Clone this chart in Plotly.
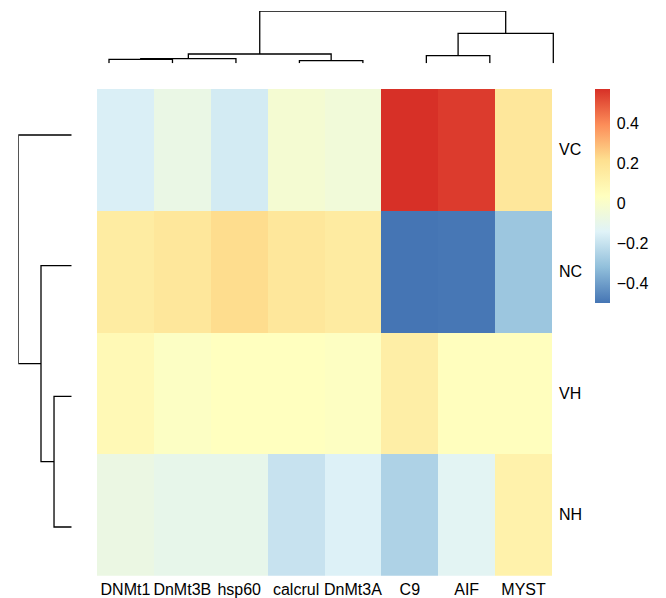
import plotly.graph_objects as go

W, H = 666, 598

# ---------------- data ----------------
col_labels = ["DNMt1", "DnMt3B", "hsp60", "calcrul", "DnMt3A", "C9", "AIF", "MYST"]
row_labels = ["VC", "NC", "VH", "NH"]

vc_values = [-0.156, -0.084, -0.172, -0.026, -0.045, 0.570, 0.548, 0.171]
nc_values = [0.146, 0.172, 0.220, 0.171, 0.150, -0.500, -0.495, -0.297]
vh_values = [0.069, 0.020, 0.035, 0.035, 0.025, 0.131, 0.038, 0.038]
nh_values = [-0.079, -0.101, -0.101, -0.200, -0.150, -0.256, -0.127, 0.112]

# hierarchical clustering merges: (child_a, child_b, height); leaves are 0..n-1
col_merges = [(3, 4, 0.050), (0, 1, 0.076), (9, 2, 0.088), (5, 6, 0.145),
              (10, 8, 0.178), (11, 7, 0.574), (12, 13, 1.000)]
row_merges = [(2, 3, 0.331), (1, 4, 0.575), (0, 5, 1.000)]

colorbar_ticks = [-0.4, -0.2, 0, 0.2, 0.4]
palette = ["#4575B4", "#91BFDB", "#E0F3F8", "#FFFFBF", "#FEE090", "#FC8D59", "#D73027"]

# ---------------- helpers ----------------
def px_x(p):
    return p / W

def px_y(p):
    return 1 - p / H

def dendro_segments(n_leaves, merges):
    pos = {i: float(i) for i in range(n_leaves)}
    hgt = {i: 0.0 for i in range(n_leaves)}
    xs, ys = [], []
    for k, (a, b, h) in enumerate(merges):
        node = n_leaves + k
        xs += [pos[a], pos[a], pos[b], pos[b], None]
        ys += [hgt[a], h, h, hgt[b], None]
        pos[node] = (pos[a] + pos[b]) / 2
        hgt[node] = h
    return xs, ys

z = [vc_values, nc_values, vh_values, nh_values]
flat = [v for r in z for v in r]
zmin, zmax = min(flat), max(flat)
colorscale = [[i / (len(palette) - 1), c] for i, c in enumerate(palette)]

font_family = "Liberation Sans, Arial, Helvetica, sans-serif"

fig = go.Figure()

fig.add_trace(go.Heatmap(
    z=z, x=col_labels, y=row_labels,
    zmin=zmin, zmax=zmax, colorscale=colorscale,
    xaxis="x", yaxis="y", hoverinfo="skip",
    colorbar=dict(
        x=px_x(595), xanchor="left", xpad=0,
        y=px_y(89), yanchor="top", ypad=0,
        len=214, lenmode="pixels",
        thickness=15, thicknessmode="pixels",
        outlinewidth=0, ticks="outside", ticklen=4,
        tickcolor="rgba(0,0,0,0)",
        tickvals=colorbar_ticks,
        tickfont=dict(family=font_family, size=16, color="black"),
    ),
))

# column dendrogram (top)
cx, cy = dendro_segments(len(col_labels), col_merges)
fig.add_trace(go.Scatter(x=cx, y=cy, mode="lines", xaxis="x2", yaxis="y2",
                         line=dict(color="black", width=1.3), hoverinfo="skip",
                         showlegend=False, cliponaxis=False))

# row dendrogram (left)
ry, rx = dendro_segments(len(row_labels), row_merges)
fig.add_trace(go.Scatter(x=rx, y=ry, mode="lines", xaxis="x3", yaxis="y3",
                         line=dict(color="black", width=1.3), hoverinfo="skip",
                         showlegend=False, cliponaxis=False))

hidden = dict(showgrid=False, zeroline=False, showticklabels=False,
              ticks="", showline=False)

n_c = len(col_labels)
n_r = len(row_labels)
col_step = (553.3 - 109) / (n_c - 1)
row_step = (527 - 135) / (n_r - 1)

fig.update_layout(
    width=W, height=H,
    margin=dict(l=0, r=0, t=0, b=0),
    paper_bgcolor="white", plot_bgcolor="white",
    font=dict(family=font_family, size=16, color="black"),
    showlegend=False,
    xaxis=dict(domain=[px_x(97), px_x(552)], anchor="y", side="bottom",
               showgrid=False, zeroline=False, ticks="", showline=False,
               tickfont=dict(size=16), ticklabelstandoff=2),
    yaxis=dict(domain=[px_y(575.7), px_y(89)], anchor="x", side="right",
               autorange="reversed", showgrid=False, zeroline=False,
               ticks="", showline=False, tickfont=dict(size=16),
               ticklabelstandoff=6),
    xaxis2=dict(domain=[px_x(109 - col_step / 2), px_x(553.3 + col_step / 2)],
                range=[-0.5, n_c - 0.5], anchor="y2", **hidden),
    yaxis2=dict(domain=[px_y(63.3), px_y(11)], range=[0, 1], anchor="x2", **hidden),
    xaxis3=dict(domain=[px_x(18.3), px_x(71.7)], range=[1, 0], anchor="y3", **hidden),
    yaxis3=dict(domain=[px_y(527 + row_step / 2), px_y(135 - row_step / 2)],
                range=[n_r - 0.5, -0.5], anchor="x3", **hidden),
)

fig.write_html(
    "out.html",
    config={"displayModeBar": False, "staticPlot": True},
    post_script="document.body.style.margin='0';document.body.style.overflow='hidden';",
)
